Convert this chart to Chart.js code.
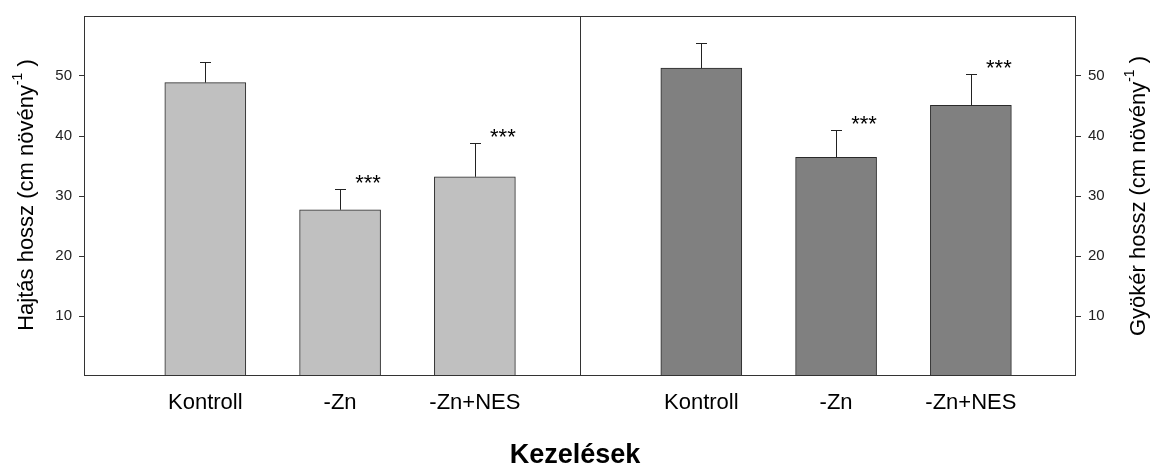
<!DOCTYPE html>
<html>
<head>
<meta charset="utf-8">
<script src="https://cdn.jsdelivr.net/npm/chart.js@4.4.0/dist/chart.umd.min.js"></script>
<style>
  body { margin: 0; background: #fff; }
</style>
</head>
<body>
<canvas id="chart" width="1161" height="466"></canvas>
<script>
var kezelesek = ['Kontroll', '-Zn', '-Zn+NES']
var hajtas = [48.9, 27.7, 33.2]
var hajtasHiba = [3.5, 3.5, 5.6]
var gyoker = [51.3, 36.45, 45.1]
var gyokerHiba = [4.25, 4.6, 5.3]
var szignif = ['', '***', '***']
var yTicks = [10, 20, 30, 40, 50]

var font = '"Liberation Sans", Arial, sans-serif'
var panel = 3.68
var xMin = 0.1
var yMax = 60

var xPos = (p, i) => p * panel + i + 1

var pontok = (p, vals) => vals.map((v, i) => ({ x: xPos(p, i), y: v }))

var tickPos = kezelesek.map((k, i) => xPos(0, i)).concat(kezelesek.map((k, i) => xPos(1, i)))
var tickLabels = kezelesek.concat(kezelesek)

var yAxis = (pos) => ({
  position: pos,
  min: 0,
  max: yMax,
  afterBuildTicks: (axis) => { axis.ticks = yTicks.map(v => ({ value: v })) },
  afterFit: (axis) => { axis.width = pos === 'left' ? 84 : 85 },
  border: { display: false },
  grid: {
    drawOnChartArea: false,
    drawTicks: true,
    tickLength: 5,
    tickColor: '#333',
    lineWidth: 1
  },
  ticks: {
    padding: 7,
    color: '#222',
    font: { family: font, size: 15 }
  }
})

var keret = {
  id: 'keret',
  afterDatasetsDraw: (chart) => {
    var ctx = chart.ctx
    var a = chart.chartArea
    var x = chart.scales.x
    ctx.save()
    ctx.strokeStyle = '#333'
    ctx.lineWidth = 1
    ctx.strokeRect(Math.round(a.left) + 0.5, Math.round(a.top) + 0.5,
      Math.round(a.right - a.left) - 1, Math.round(a.bottom - a.top) - 1)
    var dx = Math.round(x.getPixelForValue(xMin + panel)) + 0.5
    ctx.beginPath()
    ctx.moveTo(dx, a.top)
    ctx.lineTo(dx, a.bottom)
    ctx.stroke()

    // hibasavok es csillagok
    var hibak = [hajtasHiba, gyokerHiba]
    var ertekek = [hajtas, gyoker]
    chart.data.datasets.forEach((ds, d) => {
      var meta = chart.getDatasetMeta(d)
      var ys = chart.scales[ds.yAxisID]
      meta.data.forEach((bar, i) => {
        var bx = Math.round(bar.x) + 0.5
        var top = ys.getPixelForValue(ertekek[d][i])
        var cap = Math.round(ys.getPixelForValue(ertekek[d][i] + hibak[d][i])) + 0.5
        ctx.strokeStyle = '#222'
        ctx.beginPath()
        ctx.moveTo(bx, top)
        ctx.lineTo(bx, cap)
        ctx.moveTo(bx - 5.5, cap)
        ctx.lineTo(bx + 5.5, cap)
        ctx.stroke()
        if (szignif[i]) {
          ctx.fillStyle = '#000'
          ctx.font = '22px ' + font
          ctx.textAlign = 'center'
          ctx.textBaseline = 'alphabetic'
          ctx.fillText(szignif[i], bar.x + 28, cap)
        }
      })
    })
    ctx.restore()
  },
  afterDraw: (chart) => {
    var ctx = chart.ctx
    felirat(ctx, 'Hajtás hossz (cm növény', '-1', ' )', 33, 195)
    felirat(ctx, 'Gyökér hossz (cm növény', '-1', ' )', 1145, 196)
    ctx.save()
    ctx.fillStyle = '#000'
    ctx.font = 'bold 27px ' + font
    ctx.textAlign = 'center'
    ctx.textBaseline = 'alphabetic'
    ctx.fillText('Kezelések', 575, 463)
    ctx.restore()
  }
}

function felirat (ctx, szoveg, felso, vege, x, y) {
  ctx.save()
  ctx.translate(x, y)
  ctx.rotate(-Math.PI / 2)
  ctx.fillStyle = '#000'
  ctx.textAlign = 'left'
  ctx.textBaseline = 'alphabetic'
  ctx.font = '22px ' + font
  var w1 = ctx.measureText(szoveg).width
  var w3 = ctx.measureText(vege).width
  ctx.font = '14px ' + font
  var w2 = ctx.measureText(felso).width
  var start = -(w1 + w2 + w3) / 2
  ctx.fillText(felso, start + w1, -11)
  ctx.font = '22px ' + font
  ctx.fillText(szoveg, start, 0)
  ctx.fillText(vege, start + w1 + w2, 0)
  ctx.restore()
}

new Chart(document.getElementById('chart'), {
  type: 'bar',
  data: {
    datasets: [{
      data: pontok(0, hajtas),
      yAxisID: 'y',
      backgroundColor: '#c0c0c0',
      borderColor: '#2a2a2a',
      borderWidth: 1,
      borderSkipped: false,
      barThickness: 81,
      grouped: false
    }, {
      data: pontok(1, gyoker),
      yAxisID: 'y2',
      backgroundColor: '#808080',
      borderColor: '#2a2a2a',
      borderWidth: 1,
      borderSkipped: false,
      barThickness: 81,
      grouped: false
    }]
  },
  options: {
    responsive: false,
    animation: false,
    devicePixelRatio: 1,
    layout: { padding: { top: 15, left: 0, right: 0, bottom: 0 } },
    plugins: {
      legend: { display: false },
      tooltip: { enabled: false }
    },
    scales: {
      x: {
        type: 'linear',
        min: xMin,
        max: xMin + 2 * panel,
        offset: false,
        afterBuildTicks: (axis) => { axis.ticks = tickPos.map(v => ({ value: v })) },
        afterFit: (axis) => { axis.height = 90 },
        border: { display: false },
        grid: { display: false, offset: false, drawTicks: false },
        ticks: {
          autoSkip: false,
          maxRotation: 0,
          minRotation: 0,
          padding: 14,
          color: '#000',
          font: { family: font, size: 22 },
          callback: (v, i) => tickLabels[i]
        }
      },
      y: yAxis('left'),
      y2: yAxis('right')
    }
  },
  plugins: [keret]
})
</script>
</body>
</html>
